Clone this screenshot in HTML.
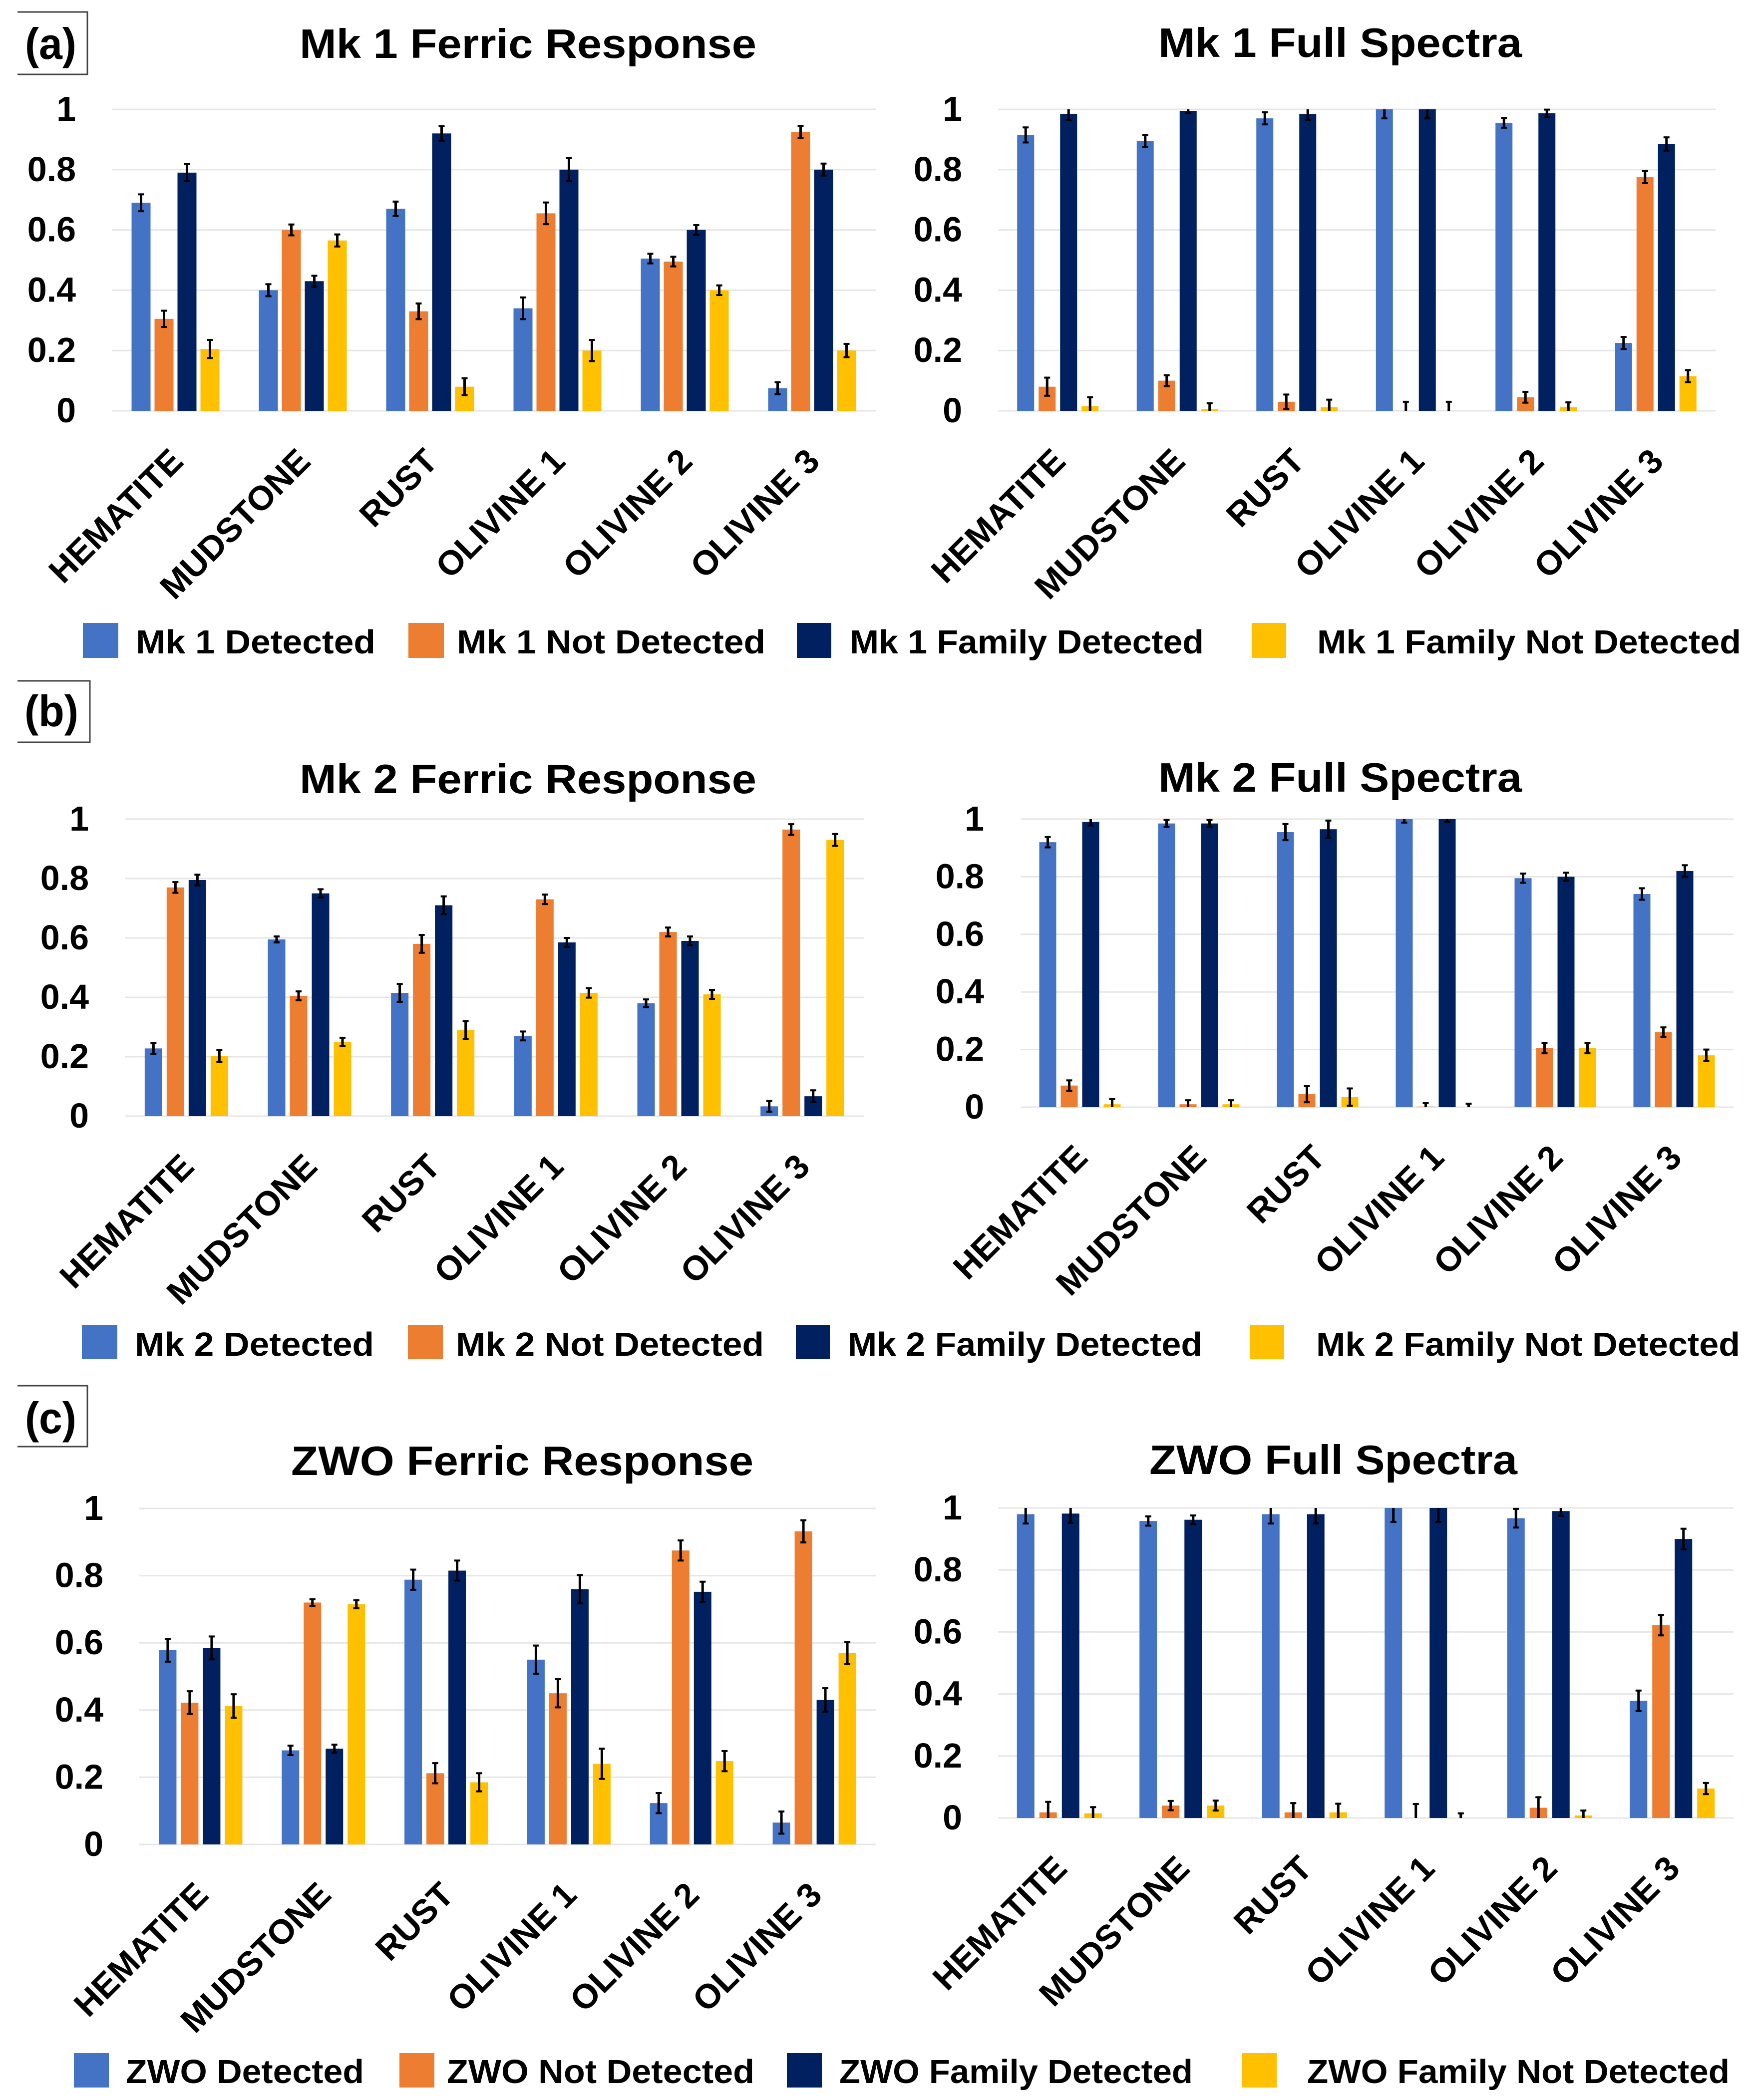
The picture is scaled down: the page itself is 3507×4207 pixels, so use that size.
<!DOCTYPE html>
<html lang="en">
<head>
<meta charset="utf-8">
<title>Detection rates for Mk 1, Mk 2 and ZWO cameras</title>
<style>
html,body{margin:0;padding:0;background:#fff;}
svg{display:block;}
text{font-family:"Liberation Sans",sans-serif;font-weight:bold;fill:#000;}
</style>
</head>
<body>
<svg id="figure" xmlns="http://www.w3.org/2000/svg" width="3507" height="4207" viewBox="0 0 3507 4207">
<rect x="0" y="0" width="3507" height="4207" fill="#fff"/>

<g>
<path d="M35 24H175V149H35" fill="none" stroke="#444" stroke-width="3"/>
<text x="50" y="118" font-size="88" textLength="103" lengthAdjust="spacingAndGlyphs">(a)</text>
</g>
<g>
<path d="M35 1364H180V1487H35" fill="none" stroke="#444" stroke-width="3"/>
<text x="49" y="1455" font-size="88" textLength="108" lengthAdjust="spacingAndGlyphs">(b)</text>
</g>
<g>
<path d="M35 2776H175V2898H35" fill="none" stroke="#444" stroke-width="3"/>
<text x="50" y="2871" font-size="88" textLength="103" lengthAdjust="spacingAndGlyphs">(c)</text>
</g>

<text x="600" y="116" font-size="83" textLength="915" lengthAdjust="spacingAndGlyphs">Mk 1 Ferric Response</text>
<text x="2320" y="114" font-size="83" textLength="728" lengthAdjust="spacingAndGlyphs">Mk 1 Full Spectra</text>
<text x="600" y="1589" font-size="83" textLength="915" lengthAdjust="spacingAndGlyphs">Mk 2 Ferric Response</text>
<text x="2320" y="1586" font-size="83" textLength="728" lengthAdjust="spacingAndGlyphs">Mk 2 Full Spectra</text>
<text x="583" y="2955" font-size="83" textLength="926" lengthAdjust="spacingAndGlyphs">ZWO Ferric Response</text>
<text x="2302" y="2953" font-size="83" textLength="737" lengthAdjust="spacingAndGlyphs">ZWO Full Spectra</text>

<g>
<rect x="166" y="1248" width="71" height="70" fill="#4472C4"/>
<text x="272" y="1309" font-size="67" textLength="480" lengthAdjust="spacingAndGlyphs">Mk 1 Detected</text>
<rect x="818" y="1248" width="71" height="70" fill="#ED7D31"/>
<text x="915" y="1309" font-size="67" textLength="618" lengthAdjust="spacingAndGlyphs">Mk 1 Not Detected</text>
<rect x="1596" y="1248" width="69" height="70" fill="#002060"/>
<text x="1702" y="1309" font-size="67" textLength="709" lengthAdjust="spacingAndGlyphs">Mk 1 Family Detected</text>
<rect x="2507" y="1248" width="69" height="70" fill="#FFC000"/>
<text x="2638" y="1309" font-size="67" textLength="849" lengthAdjust="spacingAndGlyphs">Mk 1 Family Not Detected</text>
</g>
<g>
<rect x="164" y="2654" width="71" height="69" fill="#4472C4"/>
<text x="270" y="2716" font-size="67" textLength="479" lengthAdjust="spacingAndGlyphs">Mk 2 Detected</text>
<rect x="817" y="2654" width="70" height="69" fill="#ED7D31"/>
<text x="913" y="2716" font-size="67" textLength="617" lengthAdjust="spacingAndGlyphs">Mk 2 Not Detected</text>
<rect x="1594" y="2654" width="68" height="69" fill="#002060"/>
<text x="1698" y="2716" font-size="67" textLength="710" lengthAdjust="spacingAndGlyphs">Mk 2 Family Detected</text>
<rect x="2503" y="2654" width="69" height="69" fill="#FFC000"/>
<text x="2636" y="2716" font-size="67" textLength="849" lengthAdjust="spacingAndGlyphs">Mk 2 Family Not Detected</text>
</g>
<g>
<rect x="148" y="4113" width="70" height="69" fill="#4472C4"/>
<text x="252" y="4173" font-size="67" textLength="477" lengthAdjust="spacingAndGlyphs">ZWO Detected</text>
<rect x="800" y="4113" width="70" height="69" fill="#ED7D31"/>
<text x="895" y="4173" font-size="67" textLength="616" lengthAdjust="spacingAndGlyphs">ZWO Not Detected</text>
<rect x="1576" y="4113" width="70" height="69" fill="#002060"/>
<text x="1681" y="4173" font-size="67" textLength="708" lengthAdjust="spacingAndGlyphs">ZWO Family Detected</text>
<rect x="2487" y="4113" width="70" height="69" fill="#FFC000"/>
<text x="2618" y="4173" font-size="67" textLength="846" lengthAdjust="spacingAndGlyphs">ZWO Family Not Detected</text>
</g>

<g id="charts"></g>
</svg>

<script>
const categories = ['HEMATITE', 'MUDSTONE', 'RUST', 'OLIVINE 1', 'OLIVINE 2', 'OLIVINE 3'];
const yTickValues = [0, 0.2, 0.4, 0.6, 0.8, 1];
const yTickLabels = ['0', '0.2', '0.4', '0.6', '0.8', '1'];
const seriesNames = ['detected', 'not-detected', 'family-detected', 'family-not-detected'];

const mk1FerricDetected = [0.69, 0.40, 0.67, 0.34, 0.505, 0.075];
const mk1FerricNot = [0.305, 0.60, 0.33, 0.655, 0.495, 0.925];
const mk1FerricFamily = [0.79, 0.43, 0.92, 0.80, 0.60, 0.80];
const mk1FerricFamilyNot = [0.205, 0.565, 0.08, 0.20, 0.40, 0.20];
const mk1FerricDetectedErr = [0.028, 0.02, 0.024, 0.036, 0.016, 0.02];
const mk1FerricNotErr = [0.027, 0.018, 0.026, 0.036, 0.016, 0.02];
const mk1FerricFamilyErr = [0.028, 0.018, 0.024, 0.038, 0.016, 0.02];
const mk1FerricFamilyNotErr = [0.03, 0.02, 0.028, 0.035, 0.016, 0.022];

const mk1FullDetected = [0.915, 0.895, 0.97, 1, 0.955, 0.225];
const mk1FullNot = [0.08, 0.10, 0.03, 0, 0.045, 0.775];
const mk1FullFamily = [0.985, 0.995, 0.985, 1, 0.987, 0.885];
const mk1FullFamilyNot = [0.015, 0.005, 0.012, 0, 0.012, 0.115];
const mk1FullDetectedErr = [0.025, 0.02, 0.02, 0.03, 0.016, 0.02];
const mk1FullNotErr = [0.03, 0.018, 0.024, 0.03, 0.018, 0.02];
const mk1FullFamilyErr = [0.02, 0.008, 0.02, 0.03, 0.012, 0.022];
const mk1FullFamilyNotErr = [0.03, 0.02, 0.025, 0.03, 0.016, 0.02];

const mk2FerricDetected = [0.228, 0.595, 0.415, 0.27, 0.38, 0.033];
const mk2FerricNot = [0.77, 0.405, 0.58, 0.73, 0.62, 0.965];
const mk2FerricFamily = [0.795, 0.75, 0.71, 0.585, 0.59, 0.067];
const mk2FerricFamilyNot = [0.203, 0.25, 0.29, 0.415, 0.41, 0.93];
const mk2FerricDetectedErr = [0.018, 0.01, 0.03, 0.015, 0.013, 0.018];
const mk2FerricNotErr = [0.018, 0.015, 0.03, 0.016, 0.015, 0.018];
const mk2FerricFamilyErr = [0.018, 0.014, 0.03, 0.015, 0.015, 0.02];
const mk2FerricFamilyNotErr = [0.02, 0.014, 0.03, 0.016, 0.015, 0.02];

const mk2FullDetected = [0.92, 0.985, 0.955, 1, 0.795, 0.74];
const mk2FullNot = [0.075, 0.01, 0.045, 0.002, 0.205, 0.26];
const mk2FullFamily = [0.99, 0.985, 0.965, 1, 0.80, 0.82];
const mk2FullFamilyNot = [0.01, 0.01, 0.035, 0, 0.205, 0.18];
const mk2FullDetectedErr = [0.018, 0.012, 0.028, 0.012, 0.016, 0.02];
const mk2FullNotErr = [0.018, 0.014, 0.028, 0.012, 0.018, 0.017];
const mk2FullFamilyErr = [0.012, 0.012, 0.03, 0.01, 0.014, 0.02];
const mk2FullFamilyNotErr = [0.018, 0.014, 0.03, 0.012, 0.018, 0.02];

const zwoFerricDetected = [0.578, 0.28, 0.788, 0.55, 0.123, 0.065];
const zwoFerricNot = [0.422, 0.72, 0.212, 0.45, 0.875, 0.932];
const zwoFerricFamily = [0.585, 0.285, 0.815, 0.76, 0.752, 0.43];
const zwoFerricFamilyNot = [0.412, 0.715, 0.185, 0.24, 0.248, 0.57];
const zwoFerricDetectedErr = [0.034, 0.014, 0.03, 0.042, 0.03, 0.033];
const zwoFerricNotErr = [0.034, 0.01, 0.03, 0.042, 0.03, 0.033];
const zwoFerricFamilyErr = [0.034, 0.012, 0.03, 0.042, 0.03, 0.035];
const zwoFerricFamilyNotErr = [0.035, 0.012, 0.027, 0.045, 0.03, 0.033];

const zwoFullDetected = [0.98, 0.958, 0.98, 1, 0.967, 0.378];
const zwoFullNot = [0.018, 0.04, 0.018, 0, 0.033, 0.622];
const zwoFullFamily = [0.982, 0.962, 0.98, 1, 0.99, 0.90];
const zwoFullFamilyNot = [0.015, 0.04, 0.018, 0, 0.008, 0.095];
const zwoFullDetectedErr = [0.03, 0.015, 0.03, 0.045, 0.03, 0.033];
const zwoFullNotErr = [0.034, 0.015, 0.03, 0.045, 0.034, 0.033];
const zwoFullFamilyErr = [0.03, 0.014, 0.03, 0.045, 0.015, 0.033];
const zwoFullFamilyNotErr = [0.02, 0.016, 0.028, 0.015, 0.016, 0.018];

const NS = 'http://www.w3.org/2000/svg';
const seriesColors = ['#4472C4', '#ED7D31', '#002060', '#FFC000'];

function create(parent, tag, attrs) {
  const el = document.createElementNS(NS, tag);
  for (const k in attrs) el.setAttribute(k, attrs[k]);
  parent.appendChild(el);
  return el;
}

function drawChart(cfg) {
  const root = document.getElementById('charts');
  const g = create(root, 'g', {});
  
  

  const yScale = v => cfg.y0 - v * (cfg.y0 - cfg.y1);
  const step = (cfg.right - cfg.left) / categories.length;
  const groupCenter = i => cfg.left + step * (i + 0.5);
  const barX = (i, s) => groupCenter(i) - (cfg.pitch * 3 + cfg.barW) / 2 + s * cfg.pitch;

  yTickValues.forEach((t, k) => {
    const line = create(g, 'line', {x1: cfg.left, x2: cfg.right, y1: yScale(t), y2: yScale(t), stroke: '#e6e6e6', 'stroke-width': 3});
    
    
    const label = create(g, 'text', {x: cfg.tickX, y: yScale(t) + 23, 'font-size': 70, 'text-anchor': 'end'});
    
    
    label.textContent = yTickLabels[k];
  });

  categories.forEach((c, i) => {
    const ax = groupCenter(i) + 19;
    const ay = cfg.y0 + 105;
    const label = create(g, 'text', {x: ax, y: ay, 'font-size': 68.5, 'text-anchor': 'end', transform: 'rotate(-45 ' + ax + ' ' + ay + ')'});
    
    
    label.textContent = c;
  });

  cfg.values.forEach((vals, s) => {
    vals.forEach((v, i) => {
      const x = barX(i, s);
      const bar = create(g, 'rect', {x: x, y: yScale(v), width: cfg.barW, height: cfg.y0 - yScale(v), fill: seriesColors[s]});
      
      
    });
  });

  cfg.errors.forEach((errs, s) => {
    errs.forEach((e, i) => {
      const cx = barX(i, s) + cfg.barW / 2;
      const v = cfg.values[s][i];
      const hi = Math.min(1, v + e);
      const lo = Math.max(0, v - e);
      const stem = create(g, 'line', {x1: cx, x2: cx, y1: yScale(hi), y2: yScale(lo), stroke: '#000', 'stroke-width': 5});
      
      
      if (v + e < 1) {
        const capTop = create(g, 'line', {x1: cx - 6, x2: cx + 6, y1: yScale(hi), y2: yScale(hi), stroke: '#000', 'stroke-width': 4});
        
        
      }
      if (v - e > 0) {
        const capLow = create(g, 'line', {x1: cx - 6, x2: cx + 6, y1: yScale(lo), y2: yScale(lo), stroke: '#000', 'stroke-width': 4});
        
        
      }
    });
  });
}

drawChart({id: 'chart-mk1-ferric', left: 224, right: 1754, y1: 219, y0: 823, barW: 38, pitch: 46, tickX: 152,
  values: [mk1FerricDetected, mk1FerricNot, mk1FerricFamily, mk1FerricFamilyNot],
  errors: [mk1FerricDetectedErr, mk1FerricNotErr, mk1FerricFamilyErr, mk1FerricFamilyNotErr]});
drawChart({id: 'chart-mk1-full', left: 1999, right: 3436, y1: 219, y0: 823, barW: 34, pitch: 43, tickX: 1927,
  values: [mk1FullDetected, mk1FullNot, mk1FullFamily, mk1FullFamilyNot],
  errors: [mk1FullDetectedErr, mk1FullNotErr, mk1FullFamilyErr, mk1FullFamilyNotErr]});
drawChart({id: 'chart-mk2-ferric', left: 250, right: 1730, y1: 1641, y0: 2236, barW: 35, pitch: 44, tickX: 178,
  values: [mk2FerricDetected, mk2FerricNot, mk2FerricFamily, mk2FerricFamilyNot],
  errors: [mk2FerricDetectedErr, mk2FerricNotErr, mk2FerricFamilyErr, mk2FerricFamilyNotErr]});
drawChart({id: 'chart-mk2-full', left: 2044, right: 3472, y1: 1641, y0: 2218, barW: 34, pitch: 43, tickX: 1971,
  values: [mk2FullDetected, mk2FullNot, mk2FullFamily, mk2FullFamilyNot],
  errors: [mk2FullDetectedErr, mk2FullNotErr, mk2FullFamilyErr, mk2FullFamilyNotErr]});
drawChart({id: 'chart-zwo-ferric', left: 279, right: 1754, y1: 3022, y0: 3695, barW: 35, pitch: 44, tickX: 207,
  values: [zwoFerricDetected, zwoFerricNot, zwoFerricFamily, zwoFerricFamilyNot],
  errors: [zwoFerricDetectedErr, zwoFerricNotErr, zwoFerricFamilyErr, zwoFerricFamilyNotErr]});
drawChart({id: 'chart-zwo-full', left: 1999, right: 3472, y1: 3021, y0: 3642, barW: 35, pitch: 45, tickX: 1927,
  values: [zwoFullDetected, zwoFullNot, zwoFullFamily, zwoFullFamilyNot],
  errors: [zwoFullDetectedErr, zwoFullNotErr, zwoFullFamilyErr, zwoFullFamilyNotErr]});
</script>
</body>
</html>
